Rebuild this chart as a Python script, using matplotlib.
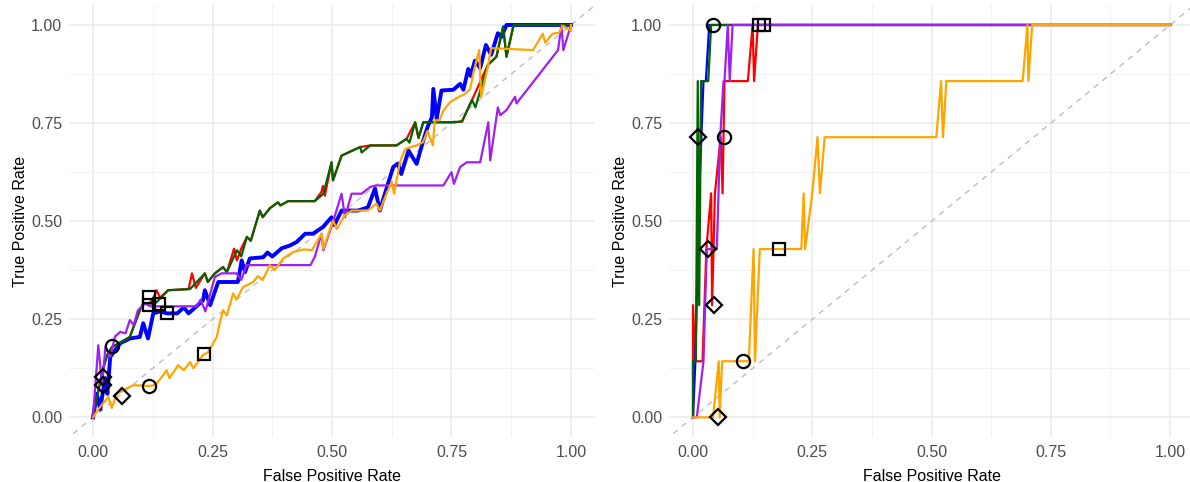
import matplotlib.pyplot as plt
from matplotlib.ticker import MultipleLocator, FixedLocator

plt.rcParams['font.family'] = ['Liberation Sans', 'DejaVu Sans']

# ---- left panel: ROC curves (fpr, tpr) ----
left_red_fpr = [0, 0.01, 0.02, 0.03, 0.04, 0.057, 0.077, 0.098, 0.105, 0.117, 0.125, 0.133, 0.14, 0.157, 0.2, 0.207, 0.215, 0.234, 0.24, 0.255, 0.272, 0.28, 0.295, 0.301, 0.31, 0.322, 0.33, 0.349, 0.355, 0.37, 0.387, 0.392, 0.408, 0.464, 0.478, 0.481, 0.485, 0.499, 0.502, 0.52, 0.559, 0.58, 0.635, 0.656, 0.674, 0.681, 0.691, 0.754, 0.772, 0.793, 0.826, 0.844, 0.858, 0.865, 0.88, 1.0]
left_red_tpr = [0, 0.06, 0.12, 0.16, 0.18, 0.19, 0.205, 0.273, 0.29, 0.29, 0.3, 0.324, 0.305, 0.324, 0.327, 0.367, 0.33, 0.367, 0.345, 0.367, 0.383, 0.37, 0.43, 0.4, 0.43, 0.46, 0.45, 0.527, 0.51, 0.533, 0.548, 0.54, 0.551, 0.551, 0.575, 0.59, 0.565, 0.65, 0.604, 0.667, 0.689, 0.693, 0.693, 0.71, 0.752, 0.712, 0.752, 0.752, 0.754, 0.809, 0.898, 0.919, 0.996, 0.919, 1.0, 1.0]

left_blue_fpr = [0, 0.008, 0.015, 0.025, 0.03, 0.036, 0.046, 0.057, 0.077, 0.098, 0.105, 0.115, 0.126, 0.14, 0.155, 0.176, 0.19, 0.2, 0.23, 0.234, 0.245, 0.262, 0.303, 0.311, 0.318, 0.328, 0.356, 0.365, 0.375, 0.395, 0.412, 0.426, 0.444, 0.46, 0.481, 0.499, 0.505, 0.52, 0.554, 0.575, 0.59, 0.6, 0.614, 0.628, 0.638, 0.645, 0.66, 0.677, 0.691, 0.7, 0.709, 0.712, 0.719, 0.729, 0.754, 0.768, 0.775, 0.785, 0.79, 0.799, 0.81, 0.822, 0.833, 0.847, 0.855, 0.865, 1.0]
left_blue_tpr = [0, 0.06, 0.02, 0.1, 0.06, 0.154, 0.171, 0.189, 0.201, 0.205, 0.24, 0.201, 0.265, 0.27, 0.265, 0.265, 0.28, 0.265, 0.298, 0.324, 0.286, 0.345, 0.345, 0.4, 0.37, 0.405, 0.408, 0.42, 0.41, 0.431, 0.438, 0.447, 0.468, 0.468, 0.485, 0.51, 0.49, 0.527, 0.527, 0.535, 0.583, 0.527, 0.583, 0.638, 0.647, 0.62, 0.68, 0.646, 0.706, 0.74, 0.765, 0.837, 0.761, 0.833, 0.835, 0.85, 0.835, 0.888, 0.87, 0.909, 0.89, 0.949, 0.924, 0.979, 0.97, 1.0, 1.0]

left_green_fpr = [0, 0.01, 0.02, 0.03, 0.04, 0.057, 0.077, 0.098, 0.105, 0.117, 0.13, 0.144, 0.157, 0.203, 0.234, 0.24, 0.255, 0.272, 0.28, 0.301, 0.31, 0.322, 0.33, 0.349, 0.355, 0.37, 0.387, 0.392, 0.408, 0.464, 0.482, 0.499, 0.502, 0.52, 0.559, 0.562, 0.58, 0.635, 0.656, 0.662, 0.674, 0.681, 0.691, 0.754, 0.772, 0.793, 0.8, 0.826, 0.844, 0.858, 0.865, 0.88, 1.0]
left_green_tpr = [0, 0.06, 0.12, 0.16, 0.18, 0.19, 0.205, 0.273, 0.29, 0.29, 0.29, 0.307, 0.324, 0.327, 0.367, 0.345, 0.367, 0.383, 0.37, 0.426, 0.41, 0.46, 0.45, 0.527, 0.51, 0.533, 0.548, 0.54, 0.551, 0.551, 0.57, 0.65, 0.604, 0.667, 0.689, 0.675, 0.693, 0.693, 0.71, 0.7, 0.752, 0.712, 0.752, 0.752, 0.754, 0.809, 0.79, 0.898, 0.919, 0.996, 0.919, 1.0, 1.0]

left_purple_fpr = [0, 0.002, 0.011, 0.019, 0.026, 0.036, 0.046, 0.057, 0.068, 0.077, 0.085, 0.094, 0.109, 0.12, 0.217, 0.225, 0.235, 0.255, 0.269, 0.3, 0.31, 0.321, 0.455, 0.464, 0.478, 0.482, 0.5, 0.52, 0.527, 0.541, 0.562, 0.58, 0.592, 0.733, 0.75, 0.755, 0.768, 0.782, 0.81, 0.827, 0.831, 0.847, 0.852, 0.865, 0.883, 0.886, 0.973, 0.98, 0.984, 1.0]
left_purple_tpr = [0, 0.035, 0.184, 0.082, 0.181, 0.154, 0.206, 0.218, 0.214, 0.248, 0.235, 0.273, 0.29, 0.283, 0.283, 0.3, 0.27, 0.358, 0.367, 0.367, 0.35, 0.388, 0.388, 0.409, 0.468, 0.426, 0.49, 0.57, 0.51, 0.57, 0.57, 0.587, 0.591, 0.591, 0.625, 0.595, 0.638, 0.65, 0.65, 0.752, 0.655, 0.79, 0.77, 0.783, 0.817, 0.8, 0.936, 1.0, 0.936, 1.0]

left_orange_fpr = [0, 0.015, 0.032, 0.039, 0.05, 0.063, 0.084, 0.115, 0.13, 0.144, 0.154, 0.16, 0.178, 0.19, 0.203, 0.21, 0.23, 0.24, 0.259, 0.265, 0.272, 0.28, 0.293, 0.3, 0.314, 0.335, 0.345, 0.355, 0.37, 0.38, 0.398, 0.418, 0.44, 0.458, 0.478, 0.482, 0.502, 0.51, 0.527, 0.541, 0.575, 0.593, 0.6, 0.614, 0.625, 0.63, 0.642, 0.653, 0.677, 0.69, 0.7, 0.711, 0.715, 0.725, 0.733, 0.747, 0.764, 0.778, 0.789, 0.796, 0.808, 0.812, 0.826, 0.833, 0.921, 0.941, 0.946, 0.962, 0.975, 0.983, 1.0, 1.0]
left_orange_tpr = [0, 0.027, 0.052, 0.024, 0.06, 0.069, 0.082, 0.08, 0.082, 0.103, 0.12, 0.1, 0.133, 0.12, 0.141, 0.125, 0.159, 0.165, 0.205, 0.24, 0.273, 0.26, 0.316, 0.3, 0.332, 0.345, 0.36, 0.35, 0.388, 0.375, 0.405, 0.421, 0.428, 0.426, 0.468, 0.43, 0.502, 0.48, 0.515, 0.527, 0.527, 0.545, 0.527, 0.57, 0.6, 0.57, 0.65, 0.684, 0.693, 0.701, 0.73, 0.693, 0.757, 0.757, 0.782, 0.803, 0.816, 0.824, 0.837, 0.879, 0.936, 0.816, 0.894, 0.941, 0.936, 0.978, 0.955, 0.978, 0.98, 0.998, 0.985, 1.0]

# threshold markers, left panel
left_square_fpr = [0.117, 0.117, 0.138, 0.155, 0.232]
left_square_tpr = [0.306, 0.286, 0.288, 0.265, 0.161]
left_circle_fpr = [0.040, 0.117]
left_circle_tpr = [0.182, 0.080]
left_diamond_fpr = [0.021, 0.021, 0.061]
left_diamond_tpr = [0.103, 0.082, 0.054]

# ---- right panel ----
right_red_fpr = [0, 0.0, 0.005, 0.02, 0.028, 0.038, 0.04, 0.046, 0.058, 0.062, 0.066, 0.085, 0.115, 0.125, 0.128, 0.136, 1.0]
right_red_tpr = [0, 0.286, 0.143, 0.143, 0.429, 0.571, 0.286, 0.571, 0.714, 0.571, 0.857, 0.857, 0.857, 1.0, 0.857, 1.0, 1.0]

right_blue_fpr = [0, 0.005, 0.013, 0.022, 0.027, 0.034, 1.0]
right_blue_tpr = [0, 0.143, 0.571, 0.857, 0.857, 1.0, 1.0]

right_green_fpr = [0, 0.0, 0.006, 0.01, 0.013, 0.017, 0.03, 0.032, 0.038, 1.0]
right_green_tpr = [0, 0.143, 0.143, 0.857, 0.286, 0.857, 0.857, 0.857, 1.0, 1.0]

right_purple_fpr = [0, 0.008, 0.022, 0.029, 0.05, 0.057, 0.064, 0.066, 0.073, 0.077, 0.083, 1.0]
right_purple_tpr = [0, 0.0, 0.143, 0.429, 0.429, 0.714, 0.857, 0.857, 1.0, 0.857, 1.0, 1.0]

right_orange_fpr = [0, 0.042, 0.054, 0.056, 0.061, 0.117, 0.127, 0.13, 0.14, 0.227, 0.232, 0.235, 0.25, 0.261, 0.266, 0.276, 0.51, 0.52, 0.524, 0.531, 0.691, 0.701, 0.703, 0.711, 1.0]
right_orange_tpr = [0, 0.0, 0.143, 0.0, 0.143, 0.143, 0.429, 0.143, 0.429, 0.429, 0.571, 0.429, 0.571, 0.714, 0.571, 0.714, 0.714, 0.857, 0.714, 0.857, 0.857, 1.0, 0.857, 1.0, 1.0]

right_square_fpr = [0.138, 0.149, 0.181]
right_square_tpr = [1.0, 1.0, 0.429]
right_circle_fpr = [0.042, 0.064, 0.105]
right_circle_tpr = [1.0, 0.714, 0.143]
right_diamond_fpr = [0.010, 0.031, 0.043, 0.053]
right_diamond_tpr = [0.714, 0.429, 0.286, 0.0]

COLORS = {'red': '#FF0000', 'blue': '#0000FF', 'green': '#006400',
          'purple': '#A020F0', 'orange': '#FFA500'}
TICKS = [0, 0.25, 0.5, 0.75, 1.0]


def style_axes(ax, xmax=1.05):
    ax.set_xlim(-0.05, xmax)
    ax.set_ylim(-0.05, 1.05)
    ax.xaxis.set_major_locator(FixedLocator(TICKS))
    ax.yaxis.set_major_locator(FixedLocator(TICKS))
    ax.xaxis.set_minor_locator(MultipleLocator(0.125))
    ax.yaxis.set_minor_locator(MultipleLocator(0.125))
    ax.set_xticklabels(['%.2f' % t for t in TICKS])
    ax.set_yticklabels(['%.2f' % t for t in TICKS])
    ax.grid(True, which='major', color='#EBEBEB', lw=1.1)
    ax.grid(True, which='minor', color='#F2F2F2', lw=0.7)
    ax.set_axisbelow(True)
    for s in ax.spines.values():
        s.set_visible(False)
    ax.tick_params(which='both', length=0, labelsize=11.5, labelcolor='#4D4D4D')
    ax.tick_params(axis='x', pad=6)
    ax.tick_params(axis='y', pad=5)
    ax.set_xlabel('False Positive Rate', fontsize=11.5, labelpad=6)
    ax.set_ylabel('True Positive Rate', fontsize=11.5, labelpad=2)
    ax.plot([-1, 2], [-1, 2], ls=(0, (4, 4)), color='#BEBEBE', lw=1.0, zorder=1)


def draw_panel(ax, curves, squares, circles, diamonds, blue_lw):
    for name, (fpr, tpr) in curves:
        lw = blue_lw if name == 'blue' else 1.6
        ax.plot(fpr, tpr, color=COLORS[name], lw=lw, zorder=2)
    mk = dict(ls='none', mfc='none', mec='black', mew=1.6, zorder=5)
    ax.plot(squares[0], squares[1], marker='s', ms=9, **mk)
    ax.plot(circles[0], circles[1], marker='o', ms=9.5, **mk)
    ax.plot(diamonds[0], diamonds[1], marker='D', ms=8, **mk)


fig = plt.figure(figsize=(11.9, 4.82), dpi=100)
ax1 = fig.add_axes([0.0581, 0.0934, 0.4418, 0.8955])
ax2 = fig.add_axes([0.5623, 0.0934, 0.4410, 0.8955])

style_axes(ax1)
style_axes(ax2)

draw_panel(ax1, [('red', (left_red_fpr, left_red_tpr)),
                 ('blue', (left_blue_fpr, left_blue_tpr)),
                 ('green', (left_green_fpr, left_green_tpr)),
                 ('purple', (left_purple_fpr, left_purple_tpr)),
                 ('orange', (left_orange_fpr, left_orange_tpr))],
           (left_square_fpr, left_square_tpr),
           (left_circle_fpr, left_circle_tpr),
           (left_diamond_fpr, left_diamond_tpr), blue_lw=2.8)

draw_panel(ax2, [('red', (right_red_fpr, right_red_tpr)),
                 ('blue', (right_blue_fpr, right_blue_tpr)),
                 ('green', (right_green_fpr, right_green_tpr)),
                 ('purple', (right_purple_fpr, right_purple_tpr)),
                 ('orange', (right_orange_fpr, right_orange_tpr))],
           (right_square_fpr, right_square_tpr),
           (right_circle_fpr, right_circle_tpr),
           (right_diamond_fpr, right_diamond_tpr), blue_lw=1.6)

fig.savefig('out.png', dpi=100)
